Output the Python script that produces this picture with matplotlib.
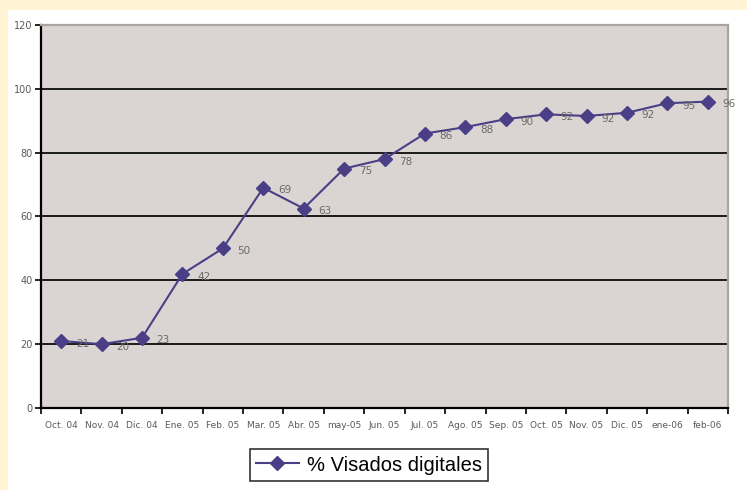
import matplotlib.pyplot as plt
from matplotlib.patches import Rectangle

# Data
months = ["Oct. 04", "Nov. 04", "Dic. 04", "Ene. 05", "Feb. 05", "Mar. 05", "Abr. 05",
          "may-05", "Jun. 05", "Jul. 05", "Ago. 05", "Sep. 05", "Oct. 05", "Nov. 05",
          "Dic. 05", "ene-06", "feb-06"]
values = [21, 20, 22, 42, 50, 69, 62.5, 75, 78, 86, 88, 90.5, 92, 91.5, 92.5, 95.5, 96]
labels = ["21", "20", "23", "42", "50", "69", "63", "75", "78", "86", "88", "90",
          "92", "92", "92", "95", "96"]

line_color = "#4a3f86"

fig = plt.figure(figsize=(7.47, 4.90), dpi=100)
fig.patch.set_facecolor("#fff3d3")
# white panel behind everything
fig.add_artist(Rectangle((8 / 747, 0), 1 - 8 / 747, 1 - 10 / 490,
                         transform=fig.transFigure, facecolor="white",
                         edgecolor="none", zorder=-10))

ax = fig.add_axes([41 / 747, 82 / 490, 687 / 747, 383 / 490])
ax.set_facecolor("#dad5d2")

x = list(range(len(months)))
ax.plot(x, values, color=line_color, linewidth=1.5, marker="D", markersize=7.5,
        markerfacecolor=line_color, markeredgecolor=line_color, label="% Visados digitales",
        zorder=3)

for xi, yi, lab in zip(x, values, labels):
    ax.text(xi + 0.36, yi - 0.8, lab, fontsize=7.5, color="#6a6a6a", va="center", ha="left",
            zorder=4)

ax.set_xlim(-0.5, len(months) - 0.5)
ax.set_ylim(0, 120)
ax.set_yticks(range(0, 121, 20))
ax.set_xticks([i - 0.5 for i in range(len(months) + 1)])
ax.set_xticklabels([])
ax.set_xticks(x, minor=True)
ax.set_xticklabels(months, minor=True)
ax.tick_params(axis="x", which="minor", length=0, labelsize=6.5, labelcolor="#5a5a5a", pad=9)
ax.tick_params(axis="x", which="major", length=4, width=1.2, color="black", direction="out")
ax.tick_params(axis="y", length=4, width=1.2, labelsize=7, labelcolor="#5a5a5a", pad=2)

for yv in range(20, 101, 20):
    ax.axhline(yv, color="#1a1a1a", linewidth=1.4, zorder=1)

ax.spines["left"].set_color("black")
ax.spines["left"].set_linewidth(1.6)
ax.spines["bottom"].set_color("black")
ax.spines["bottom"].set_linewidth(1.6)
ax.spines["top"].set_color("#a8a4a2")
ax.spines["top"].set_linewidth(1.6)
ax.spines["right"].set_color("#a8a4a2")
ax.spines["right"].set_linewidth(1.6)

leg = fig.legend(loc="center", bbox_to_anchor=(369 / 747, 1 - 465 / 490), fontsize=14.5,
                 frameon=True, fancybox=False, edgecolor="black", handlelength=2.1,
                 borderpad=0.3, handletextpad=0.4)
leg.get_frame().set_linewidth(1.2)
for t in leg.get_texts():
    t.set_fontfamily("Liberation Sans")

plt.savefig("out.png", dpi=100, facecolor=fig.get_facecolor())
